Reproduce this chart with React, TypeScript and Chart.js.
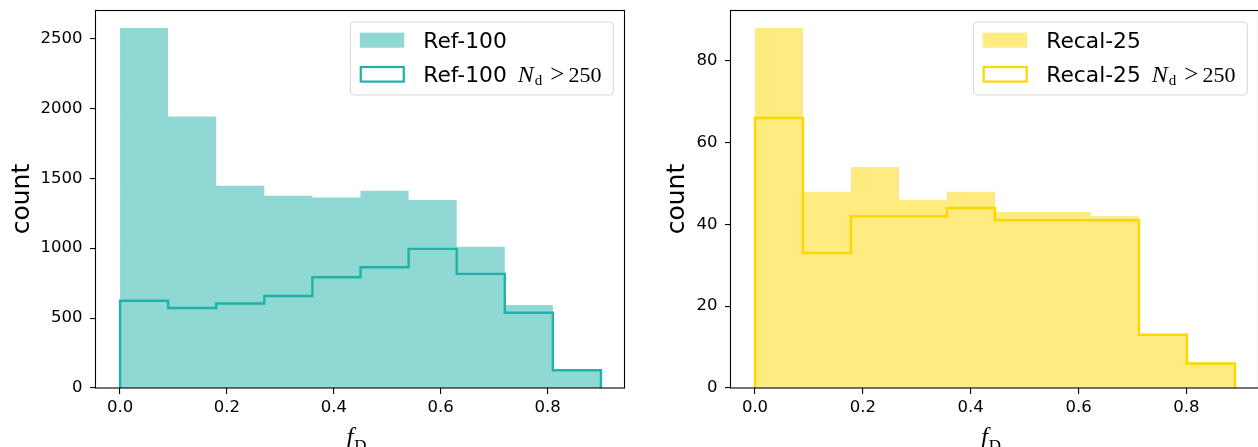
import React, { useEffect, useRef } from 'react';
import { Chart, registerables } from 'chart.js';

Chart.register(...registerables);

// ---- Data ----
const refBinEdges = [0, 0.09, 0.18, 0.27, 0.36, 0.45, 0.54, 0.63, 0.72, 0.81, 0.9];
const refAllCounts = [2575, 1942, 1447, 1375, 1363, 1411, 1344, 1011, 593, 131];
const refNdCounts = [624, 572, 604, 658, 792, 864, 995, 816, 538, 127];

const recalBinEdges = [0, 0.089, 0.178, 0.267, 0.356, 0.445, 0.534, 0.623, 0.712, 0.801, 0.89];
const recalAllCounts = [88, 48, 54, 46, 48, 43, 43, 42, 13, 6];
const recalNdCounts = [66, 33, 42, 42, 44, 41, 41, 41, 13, 6];

const xTickValues = [0, 0.2, 0.4, 0.6, 0.8];
const refYTickValues = [0, 500, 1000, 1500, 2000, 2500];
const recalYTickValues = [0, 20, 40, 60, 80];

const refLabel = 'Ref-100';
const recalLabel = 'Recal-25';
const yTitle = 'count';
const xTitleMain = 'f';
const xTitleSub = 'D';
const cutVar = 'N';
const cutSub = 'd';
const cutOp = '>';
const cutValue = '250';

function stepPoints(edges: number[], counts: number[]) {
  const pts: { x: number; y: number }[] = [{ x: edges[0], y: 0 }];
  counts.forEach((c, i) => pts.push({ x: edges[i], y: c }));
  pts.push({ x: edges[edges.length - 1], y: counts[counts.length - 1] });
  pts.push({ x: edges[edges.length - 1], y: 0 });
  return pts;
}

interface PanelProps {
  left: number;
  width: number;
  axisWidth: number;
  padRight: number;
  titlePad: number;
  edges: number[];
  all: number[];
  nd: number[];
  yTicks: number[];
  label: string;
  stroke: string;
  fill: string;
}

function Panel(p: PanelProps) {
  const ref = useRef<HTMLCanvasElement | null>(null);
  useEffect(() => {
    const canvas = ref.current;
    if (!canvas) return;
    const maxCount = Math.max(...p.all);
    const xMax = p.edges[p.edges.length - 1];
    const margin = xMax * 0.05;

    const framePlugin = {
      id: 'frameAndExtras',
      afterDraw(chart: any) {
        const ctx = chart.ctx;
        const a = chart.chartArea;
        ctx.save();
        // frame
        ctx.strokeStyle = '#000';
        ctx.lineWidth = 1.1;
        ctx.strokeRect(Math.round(a.left) - 0.5, Math.round(a.top) + 0.5, Math.round(a.right - a.left), Math.round(a.bottom - a.top) - 0.5);

        // x title f_D
        const cx = (a.left + a.right) / 2 - 4;
        ctx.fillStyle = '#000';
        ctx.textBaseline = 'alphabetic';
        ctx.font = 'italic 25px "Liberation Serif"';
        const fw = ctx.measureText(xTitleMain).width;
        ctx.font = '17px "Liberation Serif"';
        const dw = ctx.measureText(xTitleSub).width;
        const start = cx - (fw + dw + 1) / 2;
        ctx.font = 'italic 25px "Liberation Serif"';
        ctx.fillText(xTitleMain, start, 445);
        ctx.font = '17px "Liberation Serif"';
        ctx.fillText(xTitleSub, start + fw + 1, 451);

        // legend
        const textSize = 21.8;
        ctx.font = `${textSize}px "DejaVu Sans"`;
        const baseW = ctx.measureText(p.label).width;
        const mathW = 98;
        const textW = baseW + mathW;
        const boxW = 9.3 + 44.5 + 19 + textW + 8.5;
        const boxH = 73;
        const boxRight = a.right - 11.7;
        const boxLeft = boxRight - boxW;
        const boxTop = a.top + 12;
        const r = 4;
        ctx.beginPath();
        ctx.moveTo(boxLeft + r, boxTop);
        ctx.lineTo(boxLeft + boxW - r, boxTop);
        ctx.quadraticCurveTo(boxLeft + boxW, boxTop, boxLeft + boxW, boxTop + r);
        ctx.lineTo(boxLeft + boxW, boxTop + boxH - r);
        ctx.quadraticCurveTo(boxLeft + boxW, boxTop + boxH, boxLeft + boxW - r, boxTop + boxH);
        ctx.lineTo(boxLeft + r, boxTop + boxH);
        ctx.quadraticCurveTo(boxLeft, boxTop + boxH, boxLeft, boxTop + boxH - r);
        ctx.lineTo(boxLeft, boxTop + r);
        ctx.quadraticCurveTo(boxLeft, boxTop, boxLeft + r, boxTop);
        ctx.closePath();
        ctx.fillStyle = 'rgba(255,255,255,0.8)';
        ctx.fill();
        ctx.strokeStyle = '#d6d6d6';
        ctx.lineWidth = 1;
        ctx.stroke();

        const patchX = boxLeft + 9.3;
        const patchW = 44.5;
        const row1 = boxTop + 18.2;
        const row2 = boxTop + 52.3;
        ctx.fillStyle = p.fill;
        ctx.fillRect(patchX, row1 - 7.5, patchW, 15);
        ctx.strokeStyle = p.stroke;
        ctx.lineWidth = 2.2;
        ctx.strokeRect(patchX + 1, row2 - 7.3, patchW - 1.5, 14.6);

        const tx = patchX + patchW + 19;
        const b1 = row1 + 7.6;
        const b2 = row2 + 7.6;
        ctx.fillStyle = '#000';
        ctx.font = `${textSize}px "DejaVu Sans"`;
        ctx.fillText(p.label, tx, b1);
        ctx.fillText(p.label, tx, b2);
        const e = tx + baseW;
        ctx.font = `italic 24px "Liberation Serif"`;
        ctx.fillText(cutVar, e + 11, b2);
        const nW = ctx.measureText(cutVar).width;
        ctx.font = `15px "Liberation Serif"`;
        const dX = e + 11 + nW + 1;
        ctx.fillText(cutSub, dX, b2 + 3.5);
        const sW = ctx.measureText(cutSub).width;
        ctx.font = `25px "Liberation Serif"`;
        const gX = dX + sW + 8;
        ctx.fillText(cutOp, gX, b2);
        const gW = ctx.measureText(cutOp).width;
        ctx.font = `22px "Liberation Serif"`;
        ctx.fillText(cutValue, gX + gW + 4, b2);
        ctx.restore();
      },
    };

    const chart = new Chart(canvas, {
      type: 'line',
      data: {
        datasets: [
          {
            label: p.label + ' Nd>250',
            data: stepPoints(p.edges, p.nd),
            stepped: 'before',
            borderColor: p.stroke,
            borderWidth: 2.4,
            borderJoinStyle: 'miter',
            borderCapStyle: 'butt',
            pointRadius: 0,
            fill: false,
          },
          {
            label: p.label,
            data: stepPoints(p.edges, p.all),
            stepped: 'before',
            borderWidth: 0,
            borderColor: 'rgba(0,0,0,0)',
            backgroundColor: p.fill,
            pointRadius: 0,
            fill: 'origin',
          },
        ],
      } as any,
      options: {
        animation: false,
        responsive: false,
        devicePixelRatio: 1,
        layout: { padding: { top: 10, right: p.padRight, left: 0, bottom: 0 } },
        plugins: { legend: { display: false }, tooltip: { enabled: false } },
        scales: {
          x: {
            type: 'linear',
            min: -margin,
            max: xMax + margin,
            afterBuildTicks: (s: any) => {
              s.ticks = xTickValues.map((v) => ({ value: v }));
            },
            afterFit: (s: any) => {
              s.height = 59;
              s.paddingLeft = 0;
              s.paddingRight = 0;
            },
            grid: { display: true, drawOnChartArea: false, drawTicks: true, tickLength: 6, color: '#000', lineWidth: 1.1 },
            border: { display: false },
            ticks: {
              color: '#000',
              font: { family: 'DejaVu Sans', size: 16.5 },
              padding: 4,
              maxRotation: 0,
              autoSkip: false,
              callback: (v: any) => Number(v).toFixed(1),
            },
          },
          y: {
            type: 'linear',
            min: 0,
            max: maxCount * 1.05,
            afterBuildTicks: (s: any) => {
              s.ticks = p.yTicks.map((v) => ({ value: v }));
            },
            afterFit: (s: any) => {
              s.width = p.axisWidth;
              s.paddingTop = 0;
              s.paddingBottom = 0;
            },
            grid: { display: true, drawOnChartArea: false, drawTicks: true, tickLength: 6, color: '#000', lineWidth: 1.1 },
            border: { display: false },
            ticks: {
              color: '#000',
              font: { family: 'DejaVu Sans', size: 16.5 },
              padding: 7.5,
              autoSkip: false,
              callback: (v: any) => String(v),
            },
            title: {
              display: true,
              text: yTitle,
              color: '#000',
              font: { family: 'DejaVu Sans', size: 25 },
              padding: { top: p.titlePad, bottom: 0 },
            },
          },
        },
      } as any,
      plugins: [framePlugin],
    });
    return () => chart.destroy();
  }, []);
  return (
    <canvas
      ref={ref}
      width={p.width}
      height={447}
      style={{ position: 'absolute', left: p.left, top: 0, width: p.width, height: 447 }}
    />
  );
}

export default function App() {
  return (
    <div
      style={{
        position: 'fixed',
        left: 0,
        top: 0,
        width: 1258,
        height: 447,
        overflow: 'hidden',
        background: '#fff',
      }}
    >
      <Panel
        left={0}
        width={640}
        axisWidth={96}
        padRight={15}
        titlePad={7}
        edges={refBinEdges}
        all={refAllCounts}
        nd={refNdCounts}
        yTicks={refYTickValues}
        label={refLabel}
        stroke="#20b2aa"
        fill="rgba(32,178,170,0.5)"
      />
      <Panel
        left={640}
        width={630}
        axisWidth={91}
        padRight={11}
        titlePad={22}
        edges={recalBinEdges}
        all={recalAllCounts}
        nd={recalNdCounts}
        yTicks={recalYTickValues}
        label={recalLabel}
        stroke="#ffd700"
        fill="rgba(255,215,0,0.5)"
      />
    </div>
  );
}
